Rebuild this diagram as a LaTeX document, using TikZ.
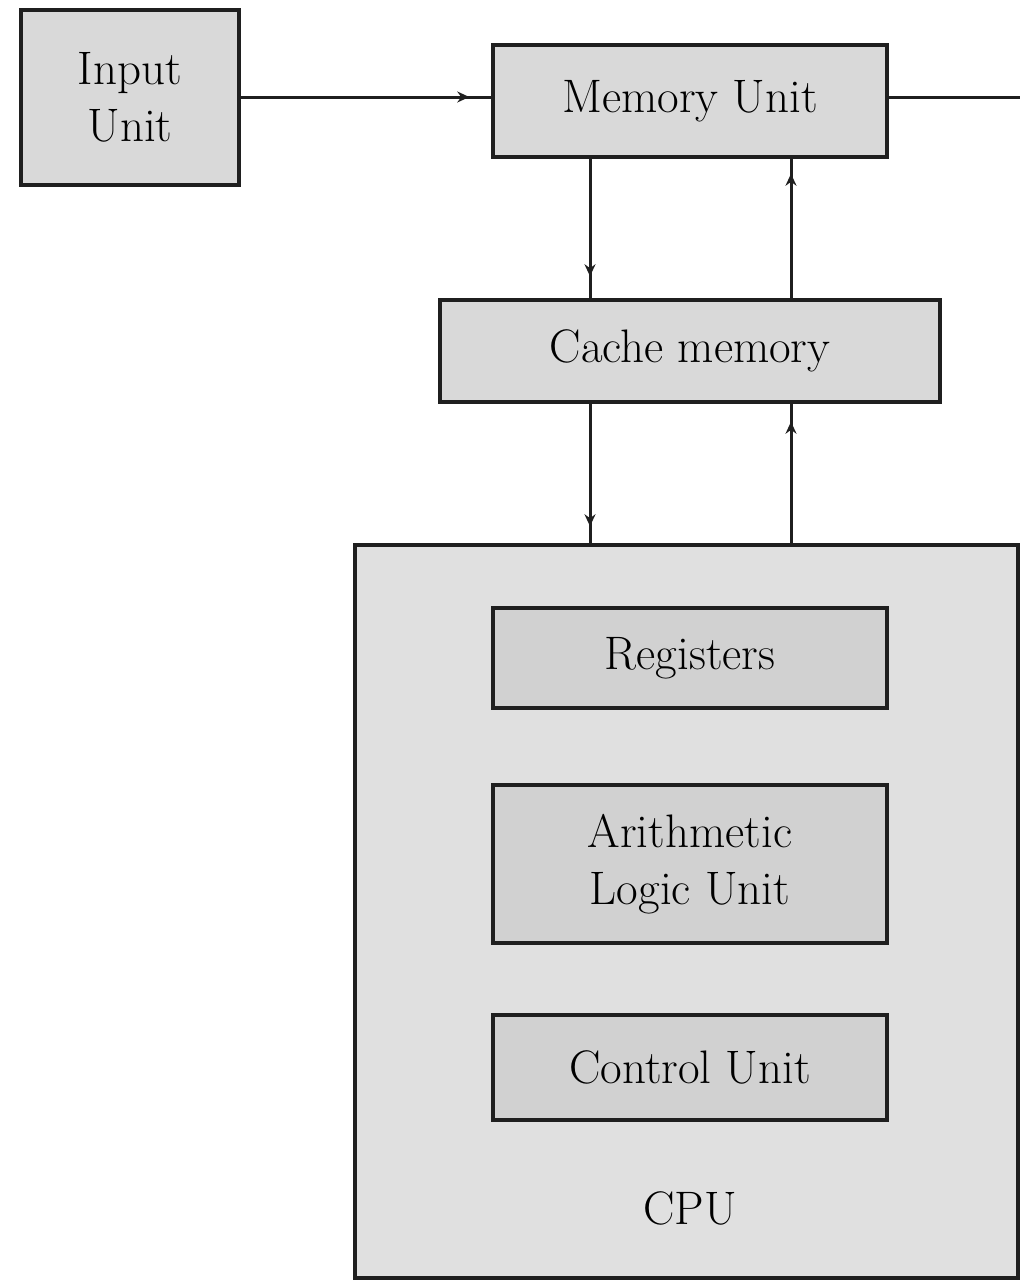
\documentclass[tikz,border=0pt]{standalone}
\usetikzlibrary{arrows.meta,decorations.markings}
\begin{document}
\begin{tikzpicture}[x=1pt,y=-1pt,
  box/.style={draw=black!88, line width=3.5pt, fill=black!15, inner sep=0pt, align=center,
    font=\fontsize{47}{57}\selectfont},
  cpubox/.style={draw=black!88, line width=3.5pt, fill=black!12, inner sep=0pt},
  inbox/.style={box, fill=black!18},
  conn/.style={draw=black!88, line width=3pt},
  midarrow/.style={postaction={decorate}, decoration={markings,
    mark=at position #1 with {\arrow{Stealth[length=12pt,width=11pt]}}}}]
\useasboundingbox (0,0) rectangle (1020,1282);
\node[box, minimum width=218pt, minimum height=175pt] (input) at (130,97.5) {Input\\Unit};
\node[box, minimum width=394pt, minimum height=112pt] (mem) at (690,101) {Memory Unit};
\node[box, minimum width=500pt, minimum height=102pt] (cache) at (690,351) {Cache memory};
\node[cpubox, minimum width=663pt, minimum height=733pt] (cpu) at (686.5,911.5) {};
\node[inbox, minimum width=394pt, minimum height=100pt] (reg) at (690,658) {Registers};
\node[inbox, minimum width=394pt, minimum height=158pt] (alu) at (690,864) {Arithmetic\\Logic Unit};
\node[inbox, minimum width=394pt, minimum height=105pt] (cu) at (690,1067.5) {Control Unit};
\node[font=\fontsize{47}{57}\selectfont] (cpulabel) at (690,1208) {CPU};
\coordinate (xa) at (590,0);
\coordinate (xb) at (791,0);
\coordinate (outend) at (1020,97);
\draw[conn, midarrow=-22pt] (input.east |- 0,97) -- (mem.west |- 0,97);
\draw[conn] (mem.east |- outend) -- (outend);
\draw[conn, midarrow=-22pt] (xa |- mem.south) -- (xa |- cache.north);
\draw[conn, midarrow=-15pt] (xb |- cache.north) -- (xb |- mem.south);
\draw[conn, midarrow=-17pt] (xa |- cache.south) -- (xa |- cpu.north);
\draw[conn, midarrow=-18pt] (xb |- cpu.north) -- (xb |- cache.south);
\end{tikzpicture}
\end{document}
